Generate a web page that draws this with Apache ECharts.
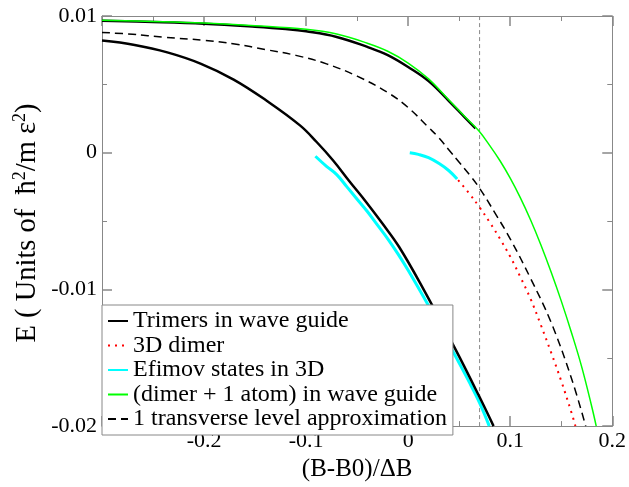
<!DOCTYPE html>
<html>
<head>
<meta charset="utf-8">
<script src="https://cdn.jsdelivr.net/npm/echarts@6/dist/echarts.min.js"></script>
<style>html,body{margin:0;padding:0;background:#fff}#c{width:629px;height:487px}</style>
</head>
<body>
<div id="c"></div>
<script>
// ---- data ----
const xTickValues = [-0.2, -0.1, 0, 0.1, 0.2];
const xTickLabels = ['-0.2', '-0.1', '0', '0.1', '0.2'];
const yTickValues = [-0.02, -0.01, 0, 0.01];
const yTickLabels = ['-0.02', '-0.01', '0', '0.01'];

const legendNames = ['Trimers in wave guide', '3D dimer', 'Efimov states in 3D', '(dimer + 1 atom) in wave guide', '1 transverse level approximation'];

const trimerUpperX = [-0.30, -0.25, -0.20, -0.15, -0.12, -0.10, -0.07, -0.04, -0.02, 0.00, 0.02, 0.04, 0.055, 0.066];
const trimerUpperY = [0.00966, 0.00957, 0.00944, 0.00922, 0.00905, 0.00888, 0.00847, 0.00774, 0.00714, 0.00627, 0.00524, 0.00378, 0.00262, 0.00178];

const trimerLowerX = [-0.30, -0.268, -0.236, -0.2035, -0.171, -0.1386, -0.106, -0.0899, -0.0737, -0.0574, -0.0412, -0.025, -0.0088, 0.0139, 0.0464, 0.069, 0.0837];
const trimerLowerY = [0.0082, 0.00788, 0.00734, 0.00652, 0.00535, 0.0038, 0.0020, 0.0008, -0.00055, -0.0021, -0.0036, -0.0052, -0.0069, -0.00984, -0.01439, -0.01773, -0.0200];

const dimer3dX = [0.049, 0.06, 0.07, 0.08, 0.09, 0.10, 0.11, 0.12, 0.13, 0.14, 0.15, 0.16, 0.1639];
const dimer3dY = [-0.0020, -0.0030, -0.0040, -0.0051, -0.0063, -0.0076, -0.0091, -0.0107, -0.0126, -0.0146, -0.0167, -0.0190, -0.0200];

const efimovLowerX = [-0.0909, -0.08, -0.07, -0.06, -0.05, -0.04, -0.03, -0.02, -0.01, 0.00, 0.02, 0.04, 0.06, 0.07, 0.0795];
const efimovLowerY = [-0.00026, -0.0010, -0.0016, -0.0025, -0.0034, -0.0043, -0.0053, -0.0063, -0.0074, -0.0086, -0.0112, -0.0140, -0.0168, -0.0183, -0.0200];

const efimovUpperX = [0.0016, 0.01, 0.02, 0.03, 0.04, 0.048];
const efimovUpperY = [0.0000, -0.00012, -0.00036, -0.00078, -0.00132, -0.00193];

const dimerAtomX = [-0.30, -0.25, -0.20, -0.15, -0.10, -0.07, -0.04, -0.02, 0.00, 0.02, 0.04, 0.055, 0.069, 0.08, 0.09, 0.10, 0.11, 0.12, 0.13, 0.14, 0.15, 0.16, 0.17, 0.18, 0.1843];
const dimerAtomY = [0.00969, 0.0096, 0.00948, 0.00929, 0.00903, 0.00868, 0.00801, 0.00742, 0.00656, 0.0054, 0.00385, 0.00268, 0.00162, 0.00052, -0.00059, -0.00186, -0.0033, -0.00492, -0.00673, -0.00871, -0.01084, -0.01315, -0.01565, -0.0186, -0.0200];

const transverseX = [-0.30, -0.27, -0.24, -0.20, -0.17, -0.14, -0.11, -0.08, -0.05, -0.02, 0.00, 0.02, 0.03, 0.04, 0.05, 0.06, 0.07, 0.085, 0.10, 0.12, 0.14, 0.16, 0.174];
const transverseY = [0.0088, 0.00866, 0.00845, 0.00822, 0.00795, 0.00755, 0.00712, 0.0065, 0.0056, 0.0044, 0.0033, 0.00185, 0.0011, 0.0002, -0.0007, -0.0016, -0.0026, -0.0044, -0.0063, -0.0092, -0.0124, -0.0165, -0.0200];

const refLineX = [0.07, 0.07];
const refLineY = [-0.02, 0.01];

const xTitle = '(B-B0)/ΔB';
const yTitle = '{n|E ( Units of  ħ}{s|2}{n|/m ε}{s|2}{n|)}';

// ---- helpers ----
const zip = (xs, ys) => xs.map((x, i) => [x, ys[i]]);
const lookup = (vals, labels) => v => {
  for (let i = 0; i < vals.length; i++) if (Math.abs(v - vals[i]) < 1e-9) return labels[i];
  return '';
};
const FONT = 'Liberation Serif';
const AX = '#888';

const baseX = {
  type: 'value', min: -0.3, max: 0.2, interval: 0.1,
  axisLine: { show: true, onZero: false, lineStyle: { color: AX, width: 1 } },
  axisTick: { show: true, inside: true, length: 10, lineStyle: { color: AX, width: 1.5 } },
  minorTick: { show: true, splitNumber: 2, length: 5, lineStyle: { color: AX, width: 1 } },
  splitLine: { show: false }
};
const baseY = {
  type: 'value', min: -0.02, max: 0.01, interval: 0.01,
  axisLine: { show: true, onZero: false, lineStyle: { color: AX, width: 1 } },
  axisTick: { show: true, inside: true, length: 10, lineStyle: { color: AX, width: 1.5 } },
  minorTick: { show: true, splitNumber: 2, length: 5, lineStyle: { color: AX, width: 1 } },
  splitLine: { show: false }
};

const chart = echarts.init(document.getElementById('c'), null, { renderer: 'canvas' });
const lineSeries = (name, xs, ys, style, z) => ({
  name, type: 'line', data: zip(xs, ys), symbol: 'none', showSymbol: false,
  smooth: 0.4, lineStyle: style, itemStyle: { color: style.color },
  animation: false, z: z || 2, clip: true
});

chart.setOption({
  animation: false,
  backgroundColor: '#fff',
  textStyle: { fontFamily: FONT },
  grid: { left: 102, right: 15, top: 16, bottom: 50, containLabel: false },
  legend: {
    data: legendNames,
    orient: 'vertical', left: 102, top: 305,
    padding: [4, 6, 4, 5],
    itemGap: 0.5, itemWidth: 20, itemHeight: 14,
    itemStyle: { opacity: 0 },
    backgroundColor: '#fff', borderColor: '#888', borderWidth: 1, borderRadius: 0,
    textStyle: { fontFamily: FONT, fontSize: 24, lineHeight: 24, color: '#000' },
    selectedMode: false, z: 10
  },
  graphic: [{
    type: 'text', x: 28, y: 223, rotation: Math.PI / 2, z: 10,
    style: {
      text: yTitle, fill: '#000', align: 'center', verticalAlign: 'middle',
      fontFamily: FONT, fontSize: 28.5,
      rich: {
        n: { fontFamily: FONT, fontSize: 28.5, lineHeight: 34, fill: '#000' },
        s: { fontFamily: FONT, fontSize: 18, lineHeight: 12, verticalAlign: 'top', fill: '#000' }
      }
    }
  }],
  xAxis: [
    Object.assign({}, baseX, {
      position: 'bottom',
      axisLabel: { show: true, fontFamily: FONT, fontSize: 22, color: '#000', margin: 4,
        formatter: lookup(xTickValues, xTickLabels) },
      name: xTitle, nameLocation: 'middle', nameGap: 27,
      nameTextStyle: { fontFamily: FONT, fontSize: 25, color: '#000' }
    }),
    Object.assign({}, baseX, { position: 'top', axisLabel: { show: false } })
  ],
  yAxis: [
    Object.assign({}, baseY, {
      position: 'left',
      axisLabel: { show: true, fontFamily: FONT, fontSize: 22, color: '#000', margin: 5,
        formatter: lookup(yTickValues, yTickLabels) }
    }),
    Object.assign({}, baseY, { position: 'right', axisLabel: { show: false } })
  ],
  series: [
    {
      name: 'ref', type: 'line', data: zip(refLineX, refLineY), symbol: 'none',
      lineStyle: { color: '#888', width: 1, type: [4, 3] }, z: 1, silent: true, animation: false
    },
    lineSeries(legendNames[2], efimovLowerX, efimovLowerY, { color: '#00ffff', width: 3 }, 2),
    lineSeries(legendNames[2], efimovUpperX, efimovUpperY, { color: '#00ffff', width: 3 }, 2),
    lineSeries(legendNames[0], trimerLowerX, trimerLowerY, { color: '#000', width: 2.5 }, 3),
    lineSeries(legendNames[0], trimerUpperX, trimerUpperY, { color: '#000', width: 2.5 }, 3),
    lineSeries(legendNames[1], dimer3dX, dimer3dY, { color: '#ff0000', width: 2, type: [2, 5] }, 3),
    lineSeries(legendNames[4], transverseX, transverseY, { color: '#000', width: 1.5, type: [8, 5] }, 3),
    lineSeries(legendNames[3], dimerAtomX, dimerAtomY, { color: '#00ff00', width: 1.5 }, 4)
  ]
});
</script>
</body>
</html>
